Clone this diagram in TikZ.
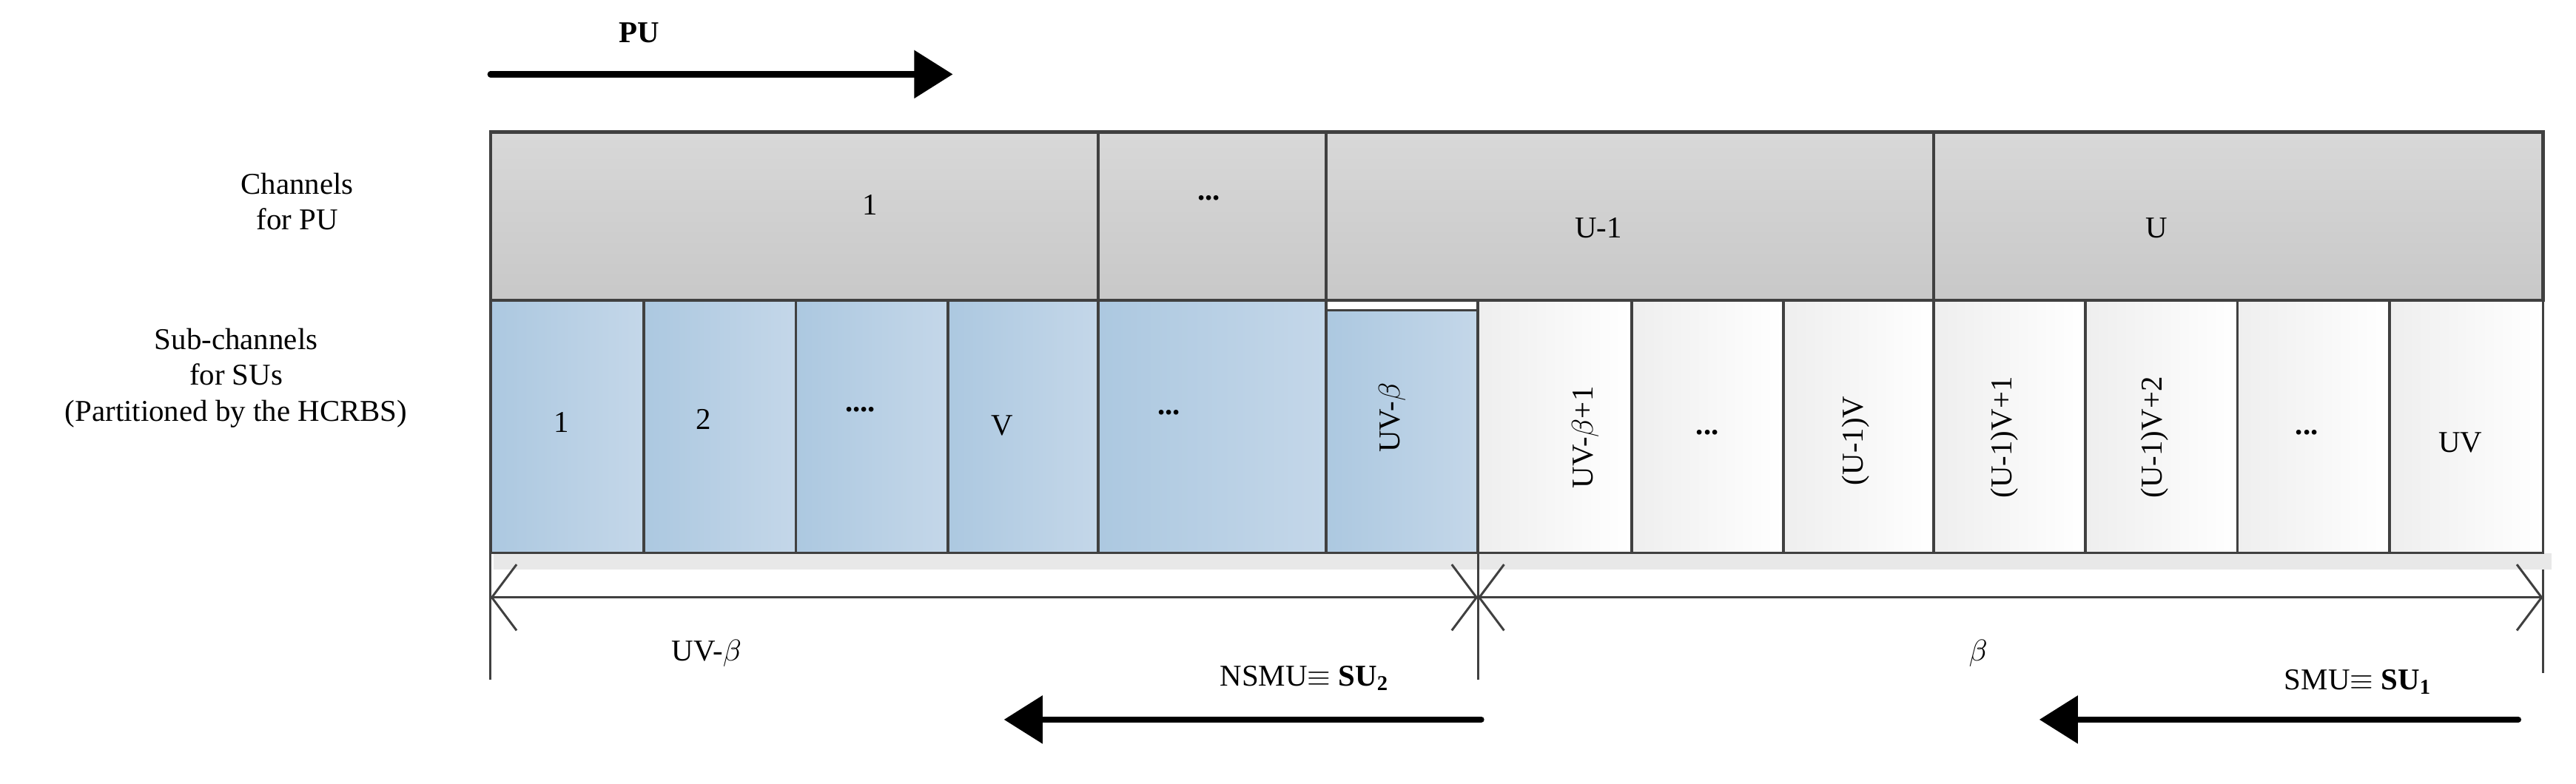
\documentclass[tikz,border=0pt]{standalone}
\usepackage{fontspec}
\setmainfont{Liberation Serif}
\usetikzlibrary{arrows.meta}
\definecolor{bluel}{RGB}{172,200,224}
\definecolor{bluer}{RGB}{196,215,233}
\tikzset{
  pucell/.style={draw={rgb,255:red,64;green,64;blue,64},line width=1.2,top color={rgb,255:red,216;green,216;blue,216},bottom color={rgb,255:red,200;green,200;blue,200}},
  sucell/.style={draw={rgb,255:red,64;green,64;blue,64},line width=1,left color=bluel,right color=bluer},
  frcell/.style={draw={rgb,255:red,64;green,64;blue,64},line width=1,left color={rgb,255:red,238;green,238;blue,238},right color=white},
  lbl/.style={inner sep=0.75pt,align=center,font=\fontsize{11}{13}\selectfont},
  bigarrow/.style={line width=2.2,line cap=round,-{Triangle[length=14,width=17]}},
  dimline/.style={draw={rgb,255:red,64;green,64;blue,64},line width=0.8}
}
\begin{document}
\begin{tikzpicture}[x=0.6pt,y=0.6pt,yscale=-1,xscale=1]
\useasboundingbox (0,0) rectangle (1560,474.6);

% shadow strip
\fill [gray!18] (299,335) rectangle (1545,345);

% channels for PU
\draw [pucell] (297,80) rectangle (665,182);
\draw [pucell] (665,80) rectangle (803,182);
\draw [pucell] (803,80) rectangle (1171,182);
\draw [pucell] (1171,80) rectangle (1540,182);

% sub-channels occupied by NSMU
\foreach \xa/\xb in {297/390,390/482,482/574,574/665,665/803}
  \draw [sucell] (\xa,182) rectangle (\xb,335);
\draw [sucell] (803,188) rectangle (895,335);

% sub-channels for SMU
\foreach \xa/\xb in {895/988,988/1080,1080/1171,1171/1263,1263/1355,1355/1447,1447/1540}
  \draw [frcell] (\xa,182) rectangle (\xb,335);

% Text Node
\node [lbl] (pu1) at (527,124) {1};
\node [lbl] (pud) at (732,120) {\textbf{...}};
\node [lbl] (puu1) at (968,138) {U-1};
\node [lbl] (puu) at (1306,138) {U};
\node [lbl] (su1) at (340,256) {1};
\node [lbl] (su2) at (426,254) {2};
\node [lbl] (sud) at (521,248) {\textbf{....}};
\node [lbl] (suv) at (607,258) {V};
\node [lbl] (sud2) at (708,250) {\textbf{...}};
\node [lbl,rotate=90] (suuvb) at (843,253) {UV-$\beta$};
\node [lbl,rotate=90] (suuvb1) at (960,265) {UV-$\beta$+1};
\node [lbl] (sud3) at (1034,262) {\textbf{...}};
\node [lbl,rotate=90] (suu1v) at (1124,267) {(U-1)V};
\node [lbl,rotate=90] (suu1v1) at (1214,265) {(U-1)V+1};
\node [lbl,rotate=90] (suu1v2) at (1305,265) {(U-1)V+2};
\node [lbl] (sud4) at (1397,262) {\textbf{...}};
\node [lbl] (suuv) at (1490,268) {UV};
\node [lbl] (chpu) at (180,122) {Channels\\for PU};
\node [lbl] (chsu) at (143,229) {Sub-channels\\for SUs\\(Partitioned by the HCRBS)};

% dimension lines
\coordinate (dl) at (297,362);
\coordinate (dm) at (895,362);
\coordinate (dr) at (1540,362);
\draw [dimline] (297,335) -- (297,412);
\draw [dimline] (895,335) -- (895,412);
\draw [dimline] (1540,345) -- (1540,408);
\draw [dimline,{Straight Barb[length=9,width=24]}-{Straight Barb[length=9,width=24]}] (dl) -- (dm);
\draw [dimline,{Straight Barb[length=9,width=24]}-{Straight Barb[length=9,width=24]}] (dm) -- (dr);
\node [lbl] (nsmuw) at (428,396) {UV-$\beta$};
\node [lbl] (smuw) at (1198,396) {$\beta$};

% user arrows
\coordinate (pua) at (297,45);
\coordinate (pub) at (577,45);
\node [lbl] (pulbl) at (387,20) {\textbf{PU}};
\draw [bigarrow] (pua) -- (pub);
\coordinate (nsa) at (897,436);
\coordinate (nsb) at (608,436);
\node [lbl] (nslbl) at (790,411) {NSMU$\equiv$ \textbf{SU\textsubscript{2}}};
\draw [bigarrow] (nsa) -- (nsb);
\coordinate (sma) at (1525,436);
\coordinate (smb) at (1235,436);
\node [lbl] (smlbl) at (1428,413) {SMU$\equiv$ \textbf{SU\textsubscript{1}}};
\draw [bigarrow] (sma) -- (smb);

\end{tikzpicture}
\end{document}
